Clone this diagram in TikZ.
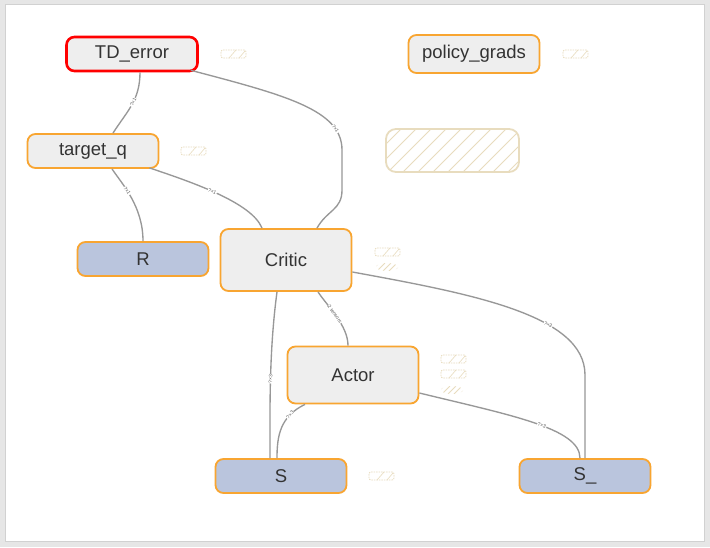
\documentclass[tikz,border=0pt]{standalone}
\usepackage{fontspec}
\setmainfont{Liberation Sans}
\definecolor{bord}{HTML}{F8A531}
\definecolor{redb}{HTML}{FF0000}
\definecolor{nfill}{HTML}{EEEEEE}
\definecolor{bfill}{HTML}{BAC5DD}
\definecolor{txt}{HTML}{333333}
\definecolor{edgec}{HTML}{989898}
\definecolor{hatchc}{HTML}{E8DCBE}
\definecolor{bg}{HTML}{E6E6E6}
\begin{document}
\begin{tikzpicture}[x=1pt,y=-1pt,
  opnode/.style={draw=bord,line width=1.8pt,rounded corners=8pt,fill=nfill,text=txt,
    font=\fontsize{18.5}{20}\selectfont,inner sep=0pt,minimum width=131pt,minimum height=34pt},
  phnode/.style={opnode,fill=bfill},
  edge/.style={draw=edgec,line width=1.35pt},
  elab/.style={font=\fontsize{5}{5}\selectfont,text=txt!80,sloped,inner sep=0.5pt,fill=white},
  icon/.style={draw=hatchc,line width=0.8pt,dash pattern=on 1.5pt off 1pt,rounded corners=2pt},
  hline/.style={draw=hatchc,line width=0.8pt}
]
\useasboundingbox (0,0) rectangle (710,547);
\fill[bg] (0,0) rectangle (710,547);
\fill[white,draw=black!18,line width=0.8pt] (5,4) rectangle (704,541);

% nodes
\node[opnode,draw=redb,line width=2.6pt] (TD) at (132,54) {TD\_error};
\node[opnode,minimum height=38pt] (PG) at (474,54) {policy\_grads};
\node[opnode] (TQ) at (93,151) {target\_q};
\node[phnode] (R) at (143,259) {R};
\node[opnode,minimum height=62pt] (CR) at (286,260) {Critic};
\node[opnode,minimum height=57pt] (AC) at (353,375) {Actor};
\node[phnode] (S) at (281,476) {S};
\node[phnode] (SN) at (585,476) {S\_};

% hatched empty group box
\begin{scope}
\clip[rounded corners=10pt] (386,129) rectangle (519,172);
\foreach \xx in {340,355,...,540} {\draw[hline] (\xx,175) -- (\xx+46,129);}
\end{scope}
\draw[hatchc,line width=1.8pt,rounded corners=10pt] (386,129) rectangle (519,172);

% small icons
\foreach \ix/\iy in {221/50, 563/50, 181/147, 375/248, 441/355, 441/370, 369/472} {
  \draw[icon] (\ix,\iy) rectangle (\ix+25,\iy+8);
  \draw[hline,line width=0.6pt] (\ix+8,\iy+8) -- (\ix+15,\iy);
  \draw[hline,line width=0.6pt] (\ix+18,\iy+8) -- (\ix+24,\iy+1);
}
\foreach \ix/\iy in {387/267, 452/390} {
  \begin{scope}
  \clip (\ix,\iy) ellipse (11pt and 4pt);
  \foreach \k in {-12,-6,...,12} {\draw[hline,line width=0.8pt] (\ix+\k-4,\iy+4) -- (\ix+\k+4,\iy-4);}
  \end{scope}
}

% edges
\draw[edge] ([xshift=8pt]TD.south) .. controls +(0,28) and +(14,-22) .. ([xshift=20pt]TQ.north)
  node[elab,pos=0.45] {?{\texttimes}1};
\draw[edge] ([xshift=-8pt,yshift=2pt]TD.south east) .. controls +(95,25) and +(0,-40) .. (342,150)
  node[elab,pos=0.8] {?{\texttimes}1}
  -- (342,190) .. controls +(0,20) and +(10,-18) .. ([xshift=31pt]CR.north);
\draw[edge] ([xshift=-10pt,yshift=1pt]TQ.south east) .. controls +(45,15) and +(-10,-25) .. ([xshift=-24pt]CR.north)
  node[elab,pos=0.45] {?{\texttimes}1};
\draw[edge] ([xshift=19pt]TQ.south) .. controls +(10,15) and +(0,-35) .. (R.north)
  node[elab,pos=0.4] {?{\texttimes}1};
\draw[edge] ([xshift=32pt]CR.south) .. controls +(10,15) and +(0,-20) .. ([xshift=-5pt]AC.north)
  node[elab,pos=0.45] {2 tensors};
\draw[edge] ([xshift=-9pt]CR.south) .. controls +(-8,60) and +(0,-50) .. ([xshift=-11pt]S.north)
  node[elab,pos=0.5] {?{\texttimes}3};
\draw[edge] ([xshift=-48pt]AC.south) .. controls +(-25,12) and +(0,-22) .. ([xshift=-4pt]S.north)
  node[elab,pos=0.25] {?{\texttimes}3};
\draw[edge] ([yshift=-12pt]CR.east) .. controls +(120,22) and +(0,-60) .. (585,375)
  node[elab,pos=0.65] {?{\texttimes}3}
  -- (SN.north);
\draw[edge] ([yshift=-18pt]AC.east) .. controls +(90,22) and +(0,-30) .. ([xshift=-5pt]SN.north)
  node[elab,pos=0.55] {?{\texttimes}3};
\end{tikzpicture}
\end{document}
